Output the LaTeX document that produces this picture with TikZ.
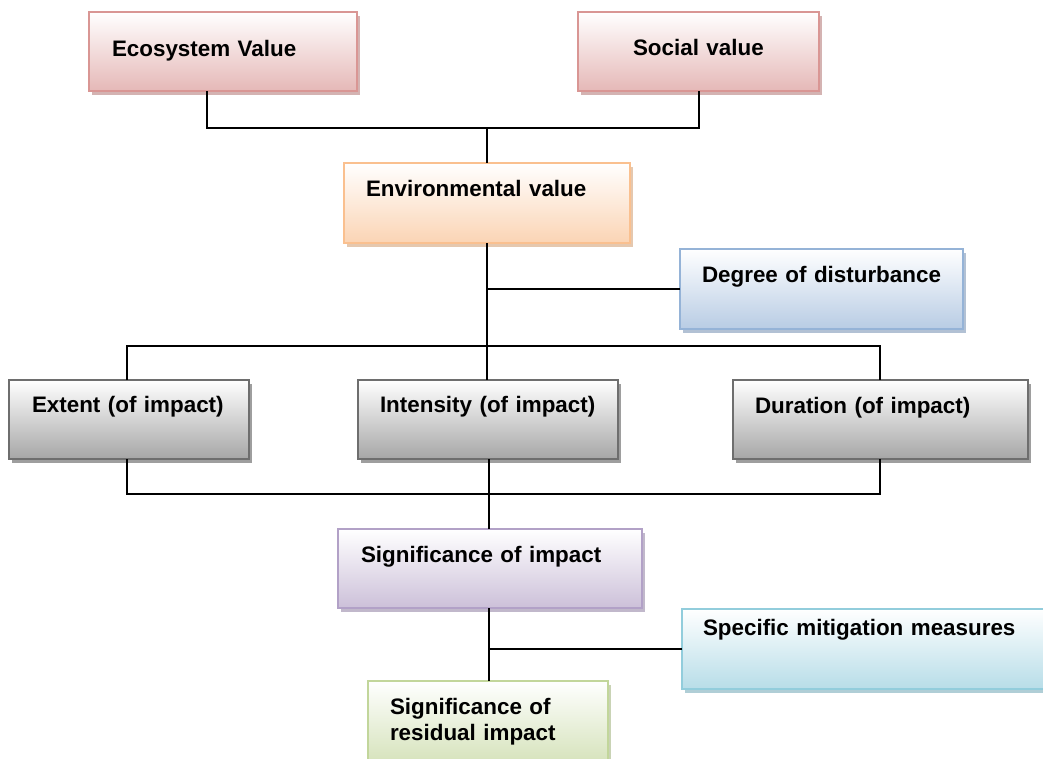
\documentclass[tikz,border=0pt]{standalone}
\usepackage{fontspec}
\setsansfont{Liberation Sans}
\usepackage{tikz}
\usetikzlibrary{shadows}
\newcommand{\lbl}[1]{\textsf{\textbf{#1}}}
\definecolor{pkbd}{RGB}{217,150,148}
\definecolor{pkfl}{RGB}{229,184,183}
\definecolor{orbd}{RGB}{250,192,143}
\definecolor{orfl}{RGB}{251,212,180}
\definecolor{blbd}{RGB}{149,179,215}
\definecolor{blfl}{RGB}{184,204,228}
\definecolor{gybd}{RGB}{110,110,110}
\definecolor{gyfl}{RGB}{166,166,166}
\definecolor{pubd}{RGB}{178,161,199}
\definecolor{pufl}{RGB}{204,192,217}
\definecolor{tqbd}{RGB}{146,205,220}
\definecolor{tqfl}{RGB}{183,221,232}
\definecolor{gnbd}{RGB}{194,214,155}
\definecolor{gnfl}{RGB}{214,227,188}

\begin{document}
\begin{tikzpicture}[
          x=1pt,y=-1pt,
          bx/.style={draw,rectangle,anchor=north west,outer sep=0pt,line width=1.8pt,
            inner ysep=0pt,align=left,font=\fontsize{22.4}{26}\selectfont},
          dim/.style n args={4}{inner xsep=#1pt,text width=#2pt,text height=#3pt,text depth=#4pt},
          tone/.style={draw=#1bd,top color=white,bottom color=#1fl,
            drop shadow={shadow xshift=3pt,shadow yshift=-4pt,fill=#1bd!85!black,opacity=.6}},
          ln/.style={line width=1.8pt}
            ]
            \useasboundingbox (0,0) rectangle (1043,758);
            \clip (0,0) rectangle (1043,758);
            \node[bx,tone=pk,dim={23}{222}{44}{35}] (eco) at (89,12) {\lbl{Ecosystem Value}};
            \node[bx,tone=pk,dim={55}{131}{43}{36}] (soc) at (578,12) {\lbl{Social value}};
            \node[bx,tone=or,dim={22}{242}{33}{47}] (env) at (344,163) {\lbl{Environmental value}};
            \node[bx,tone=bl,dim={22}{239}{33}{47}] (deg) at (680,249) {\lbl{Degree of disturbance}};
            \node[bx,tone=gy,dim={23}{194}{32}{47}] (ext) at (9,380) {\lbl{Extent (of impact)}};
            \node[bx,tone=gy,dim={22}{216}{32}{47}] (int) at (358,380) {\lbl{Intensity (of impact)}};
            \node[bx,tone=gy,dim={22}{251}{33}{46}] (dur) at (733,380) {\lbl{Duration (of impact)}};
            \node[bx,tone=pu,dim={23}{258}{33}{46}] (sig) at (338,529) {\lbl{Significance of impact}};
            \node[bx,tone=tq,dim={21}{338}{26}{54}] (mit) at (682,609) {\lbl{Specific mitigation measures}};
            \node[bx,tone=gn,dim={22}{196}{33}{48}] (res) at (368,681) {\lbl{Significance of\\residual impact}};
            \coordinate (top) at (487,128);
            \coordinate (mid) at (487,346);
            \coordinate (low) at (489,494);
            \draw[ln] (eco.south -| 207,0) |- (top) -| (soc.south -| 699,0);
            \draw[ln] (top) -- (env.north -| top);
            \draw[ln] (env.south -| mid) -- (mid);
            \draw[ln] (deg.west) -- (deg.west -| mid);
            \draw[ln] (ext.north -| 127,0) |- (mid) -| (dur.north -| 880,0);
            \draw[ln] (mid) -- (int.north -| mid);
            \draw[ln] (ext.south -| 127,0) |- (low) -| (dur.south -| 880,0);
            \draw[ln] (int.south -| low) -- (sig.north -| low);
            \draw[ln] (sig.south -| low) -- (res.north -| low);
            \draw[ln] (mit.west) -- (mit.west -| low);
\end{tikzpicture}
\end{document}
